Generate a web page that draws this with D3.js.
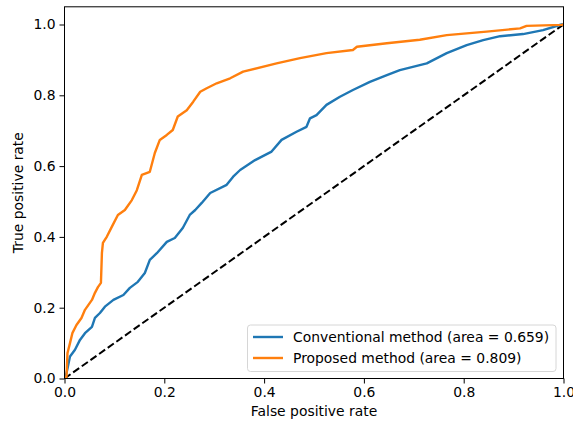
<!DOCTYPE html>
<html>
<head>
<meta charset="utf-8">
<script src="https://cdn.jsdelivr.net/npm/d3@7"></script>
<style>
  html, body { margin: 0; padding: 0; background: #fff; }
  svg { display: block; font-family: "DejaVu Sans", sans-serif; }
</style>
</head>
<body>
<svg id="chart" width="573" height="421"></svg>
<script>
// ---- data ----
const conventionalFpr = [0, 0.004, 0.011, 0.021, 0.031, 0.041, 0.055, 0.061, 0.071, 0.081, 0.098, 0.118, 0.131, 0.147, 0.161, 0.171, 0.185, 0.205, 0.221, 0.237, 0.251, 0.262, 0.275, 0.292, 0.325, 0.338, 0.352, 0.382, 0.415, 0.435, 0.465, 0.485, 0.492, 0.505, 0.525, 0.552, 0.578, 0.612, 0.646, 0.672, 0.726, 0.766, 0.806, 0.839, 0.873, 0.919, 0.959, 0.996, 1];
const conventionalTpr = [0, 0.015, 0.062, 0.081, 0.109, 0.128, 0.146, 0.171, 0.185, 0.203, 0.222, 0.236, 0.256, 0.273, 0.298, 0.335, 0.354, 0.386, 0.397, 0.425, 0.462, 0.476, 0.496, 0.524, 0.547, 0.570, 0.589, 0.617, 0.641, 0.674, 0.697, 0.711, 0.735, 0.744, 0.773, 0.796, 0.815, 0.838, 0.857, 0.871, 0.890, 0.919, 0.942, 0.956, 0.967, 0.973, 0.984, 1.0, 1];
const proposedFpr = [0, 0.004, 0.006, 0.011, 0.016, 0.024, 0.034, 0.041, 0.055, 0.061, 0.067, 0.073, 0.075, 0.077, 0.085, 0.095, 0.107, 0.121, 0.135, 0.145, 0.155, 0.171, 0.181, 0.191, 0.205, 0.217, 0.227, 0.245, 0.258, 0.272, 0.285, 0.305, 0.332, 0.358, 0.425, 0.472, 0.525, 0.578, 0.586, 0.646, 0.712, 0.766, 0.846, 0.913, 0.926, 0.996, 1];
const proposedTpr = [0, 0.005, 0.072, 0.100, 0.129, 0.151, 0.171, 0.194, 0.222, 0.242, 0.258, 0.270, 0.355, 0.383, 0.401, 0.429, 0.462, 0.476, 0.504, 0.532, 0.575, 0.584, 0.637, 0.674, 0.688, 0.702, 0.740, 0.758, 0.782, 0.810, 0.820, 0.834, 0.848, 0.867, 0.890, 0.905, 0.919, 0.928, 0.937, 0.947, 0.957, 0.970, 0.980, 0.989, 0.996, 0.999, 1];
const chanceFpr = [0, 1];
const chanceTpr = [0, 1];
const seriesNames = ["Conventional method (area = 0.659)", "Proposed method (area = 0.809)"];
const seriesColors = ["#1f77b4", "#ff7f0e"];
const tickValues = [0, 0.2, 0.4, 0.6, 0.8, 1.0];
const xLabel = "False positive rate";
const yLabel = "True positive rate";

(function () {
const FS = 13.9;
// ---- layout ----
const svg = d3.select("#chart");
const mLeft = 64.5, mRight = 563.5, mTop = 6.8, mBottom = 378.5;
const x = d3.scaleLinear().domain([0, 1]).range([mLeft, mRight]);
const y = d3.scaleLinear().domain([0, 1.05]).range([mBottom, mTop]);

const clipId = "plotclip";
svg.append("defs").append("clipPath").attr("id", clipId)
  .append("rect").attr("x", mLeft).attr("y", mTop).attr("width", mRight - mLeft).attr("height", mBottom - mTop);

const line = d3.line().x(d => x(d[0])).y(d => y(d[1]));
const zip = (a, b) => a.map((v, i) => [v, b[i]]);

const curves = svg.append("g").attr("clip-path", `url(#${clipId})`);
curves.append("path")
  .attr("d", line(zip(chanceFpr, chanceTpr)))
  .attr("fill", "none").attr("stroke", "#000").attr("stroke-width", 2)
  .attr("stroke-dasharray", "7.4,3.2");
curves.append("path")
  .attr("d", line(zip(conventionalFpr, conventionalTpr)))
  .attr("fill", "none").attr("stroke", seriesColors[0]).attr("stroke-width", 2.4)
  .attr("stroke-linejoin", "round");
curves.append("path")
  .attr("d", line(zip(proposedFpr, proposedTpr)))
  .attr("fill", "none").attr("stroke", seriesColors[1]).attr("stroke-width", 2.4)
  .attr("stroke-linejoin", "round");

// axes
const fmt = d3.format(".1f");
const xAxis = svg.append("g").attr("transform", `translate(0,${mBottom})`)
  .call(d3.axisBottom(x).tickValues(tickValues).tickFormat(fmt).tickSize(5).tickSizeOuter(0).tickPadding(4));
const yAxis = svg.append("g").attr("transform", `translate(${mLeft},0)`)
  .call(d3.axisLeft(y).tickValues(tickValues).tickFormat(fmt).tickSize(5).tickSizeOuter(0).tickPadding(4));
[xAxis, yAxis].forEach(a => {
  a.select(".domain").remove();
  a.selectAll("text").attr("font-size", FS).attr("fill", "#000").attr("font-family", "DejaVu Sans");
  a.selectAll("line").attr("stroke", "#000").attr("stroke-width", 1);
});

// frame
svg.append("rect").attr("x", mLeft).attr("y", mTop).attr("width", mRight - mLeft).attr("height", mBottom - mTop)
  .attr("fill", "none").attr("stroke", "#000").attr("stroke-width", 1);

// axis labels
svg.append("text").attr("x", (mLeft + mRight) / 2).attr("y", 416)
  .attr("text-anchor", "middle").attr("font-size", FS).attr("fill", "#000").text(xLabel);
svg.append("text").attr("transform", `translate(23,${(mTop + mBottom) / 2}) rotate(-90)`)
  .attr("text-anchor", "middle").attr("font-size", FS).attr("fill", "#000").text(yLabel);

// legend
const lg = svg.append("g");
lg.append("rect").attr("x", 247.5).attr("y", 325).attr("width", 308.5).attr("height", 46.5)
  .attr("rx", 3).attr("fill", "#fff").attr("fill-opacity", 0.8).attr("stroke", "#d6d6d6").attr("stroke-width", 1);
seriesNames.forEach((name, i) => {
  const yy = 337 + i * 21;
  lg.append("line").attr("x1", 253).attr("x2", 283).attr("y1", yy).attr("y2", yy)
    .attr("stroke", seriesColors[i]).attr("stroke-width", 2.4);
  lg.append("text").attr("x", 293).attr("y", yy + 5).attr("font-size", FS).attr("fill", "#000").text(name);
});
})();
</script>
</body>
</html>
